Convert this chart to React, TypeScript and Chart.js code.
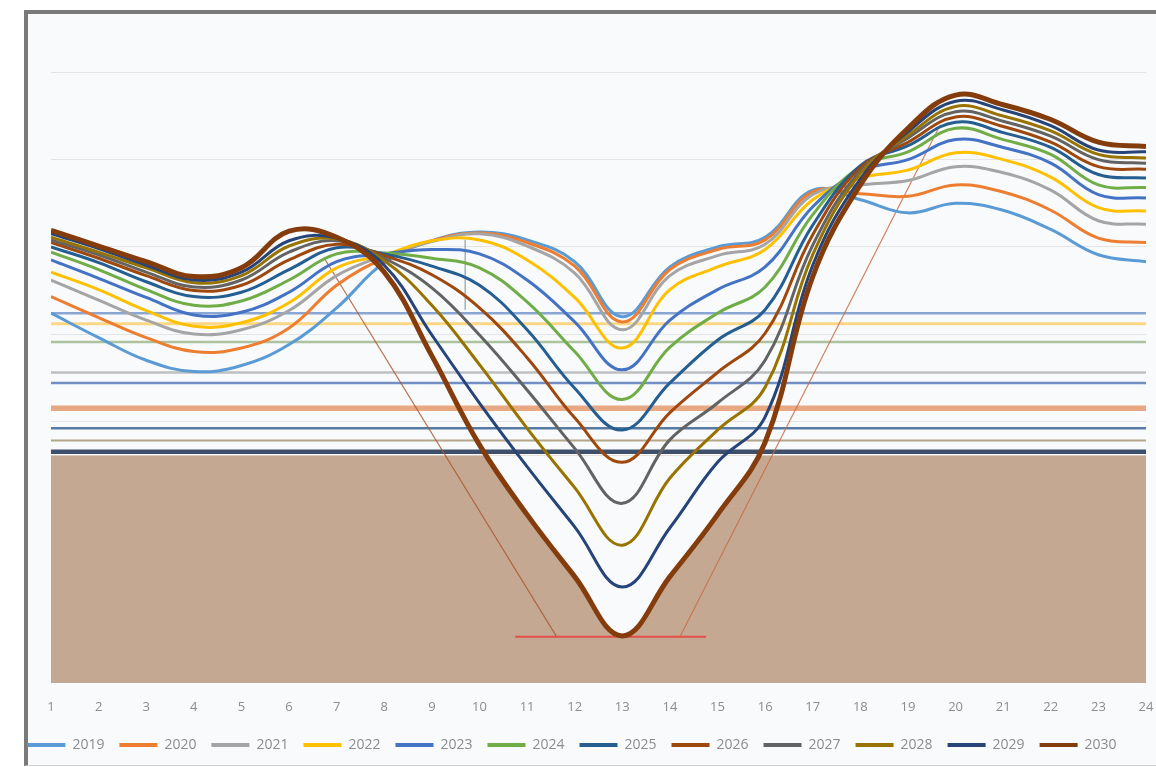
import React, { useEffect, useRef } from 'react';
import { Chart, registerables } from 'chart.js';

Chart.register(...registerables);

// Categories (x axis)
const hours = ['1','2','3','4','5','6','7','8','9','10','11','12','13','14','15','16','17','18','19','20','21','22','23','24'];
const years = ['2019','2020','2021','2022','2023','2024','2025','2026','2027','2028','2029','2030'];
const colors = ['#5b9bd5','#ed7d31','#a5a5a5','#ffc000','#4472c4','#70ad47','#255e91','#9e480e','#636363','#997300','#264478','#843c0c'];

// Series values
const s2019 = [42.4,39.6,37.0,35.7,36.4,38.8,43.0,48.2,50.7,51.7,50.8,48.3,42.0,47.7,50.0,51.1,56.5,55.4,53.9,55.0,54.2,52.0,49.1,48.3];
const s2020 = [44.3,41.9,39.6,38.0,38.4,40.7,45.6,48.7,50.7,51.6,50.5,47.8,41.4,47.4,49.7,50.8,56.3,56.1,55.8,57.1,56.3,54.2,51.0,50.5];
const s2021 = [46.2,43.9,41.6,40.0,40.5,42.7,46.7,49.0,50.6,51.5,50.1,47.0,40.5,46.7,49.0,50.3,56.0,57.1,57.6,59.2,58.5,56.5,53.0,52.6];
const s2022 = [47.1,45.1,42.7,40.9,41.3,43.6,47.6,49.1,50.7,50.8,48.5,44.2,38.4,45.1,47.7,49.7,55.4,57.9,58.8,60.8,60.0,58.0,54.5,54.1];
const s2023 = [48.5,46.4,44.2,42.2,42.5,44.8,48.3,49.2,49.7,49.2,46.2,41.4,35.9,41.6,45.1,47.7,54.6,58.7,60.0,62.3,61.4,59.6,56.0,55.6];
const s2024 = [49.4,47.4,45.1,43.3,43.8,46.2,49.2,49.3,48.7,47.6,43.7,38.0,32.5,38.5,42.4,45.4,53.7,59.2,60.9,63.6,62.3,60.6,57.1,56.8];
const s2025 = [50.0,48.2,46.0,44.3,44.8,47.4,49.9,49.2,47.8,45.6,40.5,33.8,29.0,34.4,39.3,42.8,52.5,59.3,61.6,64.3,63.1,61.4,58.3,57.9];
const s2026 = [50.5,48.7,46.7,45.0,45.6,48.5,50.3,49.0,46.8,43.0,37.3,30.4,25.3,31.0,35.6,40.1,51.4,59.1,62.0,64.9,63.8,62.0,59.2,58.9];
const s2027 = [50.8,49.1,47.1,45.4,46.2,49.4,50.7,48.7,45.3,39.9,33.6,26.9,20.6,27.9,32.1,37.0,50.2,58.7,62.5,65.5,64.4,62.7,60.0,59.6];
const s2028 = [51.1,49.4,47.6,45.9,46.7,50.1,50.9,48.4,43.3,36.5,29.2,22.4,15.8,23.5,29.0,33.9,49.1,58.4,62.8,66.1,65.0,63.3,60.6,60.2];
const s2029 = [51.5,49.8,47.9,46.2,47.1,50.7,51.0,47.9,39.9,32.1,24.8,17.9,11.0,17.8,25.3,30.5,47.9,57.8,63.2,66.7,65.7,63.9,61.1,60.9];
const s2030 = [51.9,50.1,48.3,46.6,47.6,51.8,51.1,47.1,37.5,27.3,19.3,12.2,5.4,12.2,19.3,27.6,46.6,57.1,63.6,67.4,66.3,64.6,62.0,61.5];
const series = [s2019,s2020,s2021,s2022,s2023,s2024,s2025,s2026,s2027,s2028,s2029,s2030];

// Horizontal reference levels
const refLevels = [42.4, 41.2, 39.1, 35.6, 34.4, 31.5, 29.2, 27.8, 26.5];
const refColors = ['rgba(110,145,200,0.8)','rgba(255,200,80,0.7)','rgba(150,175,130,0.75)','rgba(165,165,165,0.7)','rgba(80,115,180,0.8)','rgba(225,140,90,0.75)','rgba(45,90,140,0.8)','rgba(150,130,90,0.7)','rgba(40,60,90,0.9)'];
const refWidths = [2.5, 3, 2.5, 2.5, 2.5, 5.5, 2.5, 2, 4.5];
const fillLevel = 26.1;

// Annotation lines [x, y]
const leftArrow = [[6.74, 48.7], [11.61, 5.4]];
const rightArrow = [[14.21, 5.3], [19.68, 64.0]];
const baseMark = [[10.75, 5.3], [14.76, 5.3]];
const cursorMark = [[9.7, 50.8], [9.7, 42.8]];

const PLOT_BG = '#f8fafc';

export default function App() {
  const ref = useRef<HTMLCanvasElement | null>(null);

  useEffect(() => {
    if (!ref.current) return;
    const datasets: any[] = [];
    years.forEach((yr, i) => {
      datasets.push({
        label: yr,
        data: series[i].map((v, k) => ({ x: k + 1, y: v })),
        borderColor: colors[i],
        backgroundColor: colors[i],
        borderWidth: i === 11 ? 5 : 3,
        pointRadius: 0,
        tension: 0.4,
        fill: i === 11 ? { target: { value: fillLevel }, above: 'rgba(0,0,0,0)', below: PLOT_BG } : false,
        order: 11 - i,
      });
    });
    refLevels.forEach((lv, i) => {
      datasets.push({
        label: '',
        data: [{ x: 1, y: lv }, { x: 24, y: lv }],
        borderColor: refColors[i],
        borderWidth: refWidths[i],
        pointRadius: 0,
        fill: false,
        order: 40,
      });
    });
    datasets.push({
      label: '',
      data: [{ x: 1, y: fillLevel }, { x: 24, y: fillLevel }],
      borderWidth: 0,
      borderColor: 'rgba(0,0,0,0)',
      backgroundColor: 'rgba(190,159,134,0.9)',
      fill: 'origin',
      pointRadius: 0,
      order: 50,
    });
    const annot = [
      { pts: leftArrow, color: 'rgba(170,90,50,0.85)', w: 1.2 },
      { pts: rightArrow, color: 'rgba(200,110,70,0.85)', w: 1.2 },
      { pts: baseMark, color: 'rgba(230,75,70,0.95)', w: 2 },
      { pts: cursorMark, color: 'rgba(150,160,170,0.6)', w: 1 },
    ];
    annot.forEach((a) => {
      datasets.push({
        label: '',
        data: a.pts.map((p) => ({ x: p[0], y: p[1] })),
        borderColor: a.color,
        borderWidth: a.w,
        pointRadius: 0,
        fill: false,
        order: 30,
      });
    });

    const chart = new Chart(ref.current, {
      type: 'line',
      data: { datasets },
      options: {
        responsive: false,
        animation: false,
        layout: { padding: { left: 0, right: 52, top: 0, bottom: 5 } },
        plugins: {
          tooltip: { enabled: false },
          filler: { drawTime: 'beforeDatasetsDraw' },
          legend: {
            position: 'bottom',
            labels: {
              boxWidth: 38,
              boxHeight: 4,
              padding: 15,
              color: '#8c8c8c',
              font: { family: 'Open Sans', size: 14 },
              generateLabels: () =>
                years.map((yr, i) => ({
                  text: yr,
                  fillStyle: colors[i],
                  strokeStyle: colors[i],
                  lineWidth: 0,
                  hidden: false,
                  datasetIndex: i,
                  fontColor: '#8c8c8c',
                })),
            },
          },
        },
        scales: {
          x: {
            type: 'linear',
            min: 1,
            max: 24,
            ticks: {
              stepSize: 1,
              autoSkip: false,
              maxRotation: 0,
              padding: 16,
              color: '#8c8c8c',
              font: { family: 'Open Sans', size: 13 },
              callback: (v: any) => hours[Math.round(Number(v)) - 1] ?? '',
            },
            grid: { display: false, drawTicks: false },
            border: { display: false },
            afterFit: (s: any) => { s.height = 40; },
          },
          y: {
            min: 0,
            max: 76.7,
            ticks: { display: false, stepSize: 10 },
            grid: {
              drawTicks: false,
              color: (c: any) => (c.tick && c.tick.value > 0 && Math.abs(c.tick.value % 10) < 1e-6 ? '#e2e4e6' : 'rgba(0,0,0,0)'),
            },
            border: { display: false },
            afterFit: (s: any) => { s.width = 53; },
          },
        },
      },
    });
    return () => chart.destroy();
  }, []);

  return (
    <div style={{ position: 'fixed', left: 0, top: 0, width: 1156, height: 767, overflow: 'hidden', background: '#ffffff' }}>
      <div
        style={{
          position: 'absolute',
          left: 24,
          top: 10,
          width: 1200,
          height: 751,
          borderTop: '4px solid #7a7a7a',
          borderLeft: '4px solid #7a7a7a',
          borderBottom: '1px solid #d0d0d0',
          background: PLOT_BG,
        }}
      />
      <canvas
        ref={ref}
        width={1200}
        height={753}
        style={{ position: 'absolute', left: -2, top: 14, width: 1200, height: 753 }}
      />
    </div>
  );
}
